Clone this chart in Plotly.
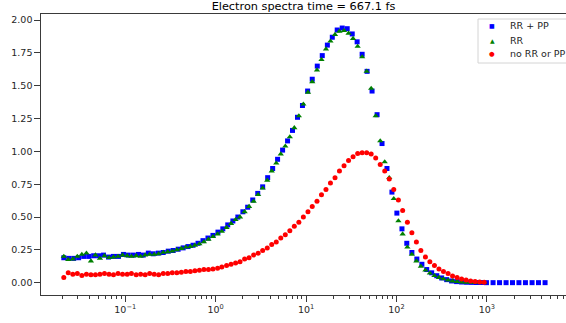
import plotly.graph_objects as go

# ---------------- data ----------------
x_rrpp = [0.0209, 0.0237, 0.0269, 0.0305, 0.0347, 0.0394, 0.0447, 0.0507, 0.0575, 0.0653,
          0.0741, 0.0841, 0.0955, 0.108, 0.123, 0.140, 0.158, 0.180, 0.204, 0.232,
          0.263, 0.299, 0.339, 0.385, 0.437, 0.495, 0.562, 0.638, 0.724, 0.822,
          0.933, 1.06, 1.20, 1.36, 1.55, 1.76, 2.00, 2.26, 2.57, 2.92,
          3.31, 3.76, 4.27, 4.84, 5.50, 6.24, 7.08, 8.04, 9.12, 10.4,
          11.7, 13.3, 15.1, 17.2, 19.5, 22.1, 25.1, 28.5, 32.4, 36.7,
          41.7, 47.3, 53.7, 61.0, 69.2, 78.5, 89.1, 101, 115, 130,
          148, 168, 191, 216, 245, 279, 316, 359, 407, 462,
          525, 596, 676, 767, 871, 989, 1170, 1380, 1630, 1920,
          2260, 2670, 3160, 3720, 4400]
y_rrpp = [0.190, 0.185, 0.185, 0.190, 0.200, 0.200, 0.205, 0.205, 0.210, 0.195,
          0.200, 0.200, 0.215, 0.210, 0.210, 0.215, 0.210, 0.225, 0.220, 0.225,
          0.230, 0.240, 0.245, 0.255, 0.265, 0.275, 0.285, 0.300, 0.320, 0.340,
          0.360, 0.385, 0.410, 0.440, 0.470, 0.500, 0.540, 0.575, 0.630, 0.680,
          0.730, 0.800, 0.870, 0.940, 1.010, 1.080, 1.160, 1.260, 1.350, 1.460,
          1.550, 1.650, 1.730, 1.810, 1.870, 1.925, 1.940, 1.935, 1.895, 1.835,
          1.740, 1.610, 1.460, 1.280, 1.060, 0.870, 0.690, 0.530, 0.410, 0.300,
          0.230, 0.180, 0.140, 0.100, 0.075, 0.053, 0.036, 0.023, 0.013, 0.008,
          0.005, 0.003, 0.002, 0.001, 0.001, 0.000, 0.000, 0.000, 0.000, 0.000,
          0.000, 0.000, 0.000, 0.000, 0.000]

x_rr = [0.0209, 0.0234, 0.0263, 0.0295, 0.0331, 0.0372, 0.0417, 0.0468, 0.0525, 0.0589,
        0.0661, 0.0741, 0.0832, 0.0933, 0.105, 0.117, 0.132, 0.148, 0.166, 0.186,
        0.209, 0.234, 0.263, 0.295, 0.331, 0.372, 0.417, 0.468, 0.525, 0.589,
        0.661, 0.741, 0.832, 0.933, 1.05, 1.17, 1.32, 1.48, 1.66, 1.86,
        2.09, 2.34, 2.63, 2.95, 3.31, 3.72, 4.17, 4.68, 5.25, 5.89,
        6.61, 7.41, 8.32, 9.33, 10.5, 11.7, 13.2, 14.8, 16.6, 18.6,
        20.9, 23.4, 26.3, 29.5, 33.1, 37.2, 41.7, 46.8, 52.5, 58.9,
        66.1, 74.1, 83.2, 93.3, 105, 117, 132, 148, 166, 186,
        209, 234, 263, 295, 331, 372, 417, 468, 525, 589,
        661, 741, 832, 933]
y_rr = [0.200, 0.175, 0.180, 0.200, 0.215, 0.225, 0.165, 0.210, 0.185, 0.205,
        0.190, 0.195, 0.200, 0.210, 0.205, 0.200, 0.205, 0.200, 0.210, 0.215,
        0.215, 0.220, 0.230, 0.235, 0.240, 0.250, 0.260, 0.270, 0.275, 0.285,
        0.295, 0.310, 0.330, 0.350, 0.370, 0.390, 0.420, 0.450, 0.480, 0.500,
        0.540, 0.580, 0.620, 0.670, 0.720, 0.780, 0.850, 0.910, 0.980, 1.040,
        1.110, 1.180, 1.270, 1.360, 1.450, 1.530, 1.620, 1.700, 1.780, 1.840,
        1.890, 1.915, 1.920, 1.900, 1.860, 1.800, 1.720, 1.610, 1.480, 1.270,
        1.080, 0.920, 0.800, 0.640, 0.470, 0.370, 0.270, 0.215, 0.165, 0.125,
        0.095, 0.072, 0.053, 0.039, 0.028, 0.019, 0.012, 0.008, 0.005, 0.003,
        0.002, 0.001, 0.001, 0.000]

x_none = x_rr
y_none = [0.040, 0.075, 0.065, 0.070, 0.055, 0.065, 0.060, 0.060, 0.065, 0.070,
          0.065, 0.060, 0.070, 0.065, 0.065, 0.070, 0.060, 0.065, 0.060, 0.070,
          0.065, 0.060, 0.070, 0.070, 0.075, 0.075, 0.080, 0.085, 0.085, 0.090,
          0.095, 0.100, 0.100, 0.105, 0.110, 0.120, 0.130, 0.140, 0.150, 0.160,
          0.180, 0.190, 0.210, 0.225, 0.245, 0.265, 0.290, 0.310, 0.340, 0.365,
          0.395, 0.430, 0.460, 0.500, 0.540, 0.580, 0.620, 0.670, 0.710, 0.760,
          0.800, 0.850, 0.890, 0.930, 0.960, 0.985, 0.990, 0.990, 0.980, 0.950,
          0.900, 0.850, 0.790, 0.710, 0.630, 0.550, 0.460, 0.380, 0.310, 0.245,
          0.195, 0.160, 0.130, 0.105, 0.085, 0.070, 0.050, 0.040, 0.028, 0.020,
          0.013, 0.008, 0.005, 0.003]

series_names = ["RR + PP", "RR", "no RR or PP"]
series_colors = ["#0000ff", "#008000", "#ff0000"]
legend_glyphs = ["\u25A0", "\u25B2", "\u25CF"]
title_text = "Electron spectra time = 667.1 fs"
y_ticks = [0.0, 0.25, 0.5, 0.75, 1.0, 1.25, 1.5, 1.75, 2.0]
x_tick_vals = [0.1, 1, 10, 100, 1000]
x_tick_text = ["10<sup>\u22121</sup>", "10<sup>0</sup>", "10<sup>1</sup>",
               "10<sup>2</sup>", "10<sup>3</sup>"]

# ---------------- layout geometry (pixels) ----------------
W, H = 566, 323
L, R, T, B = 41, 0, 14, 28
PW, PH = W - L - R, H - T - B


def px_x(p):
    return (p - L) / PW


def px_y(p):
    return (H - B - p) / PH


TXT = "#262626"
AX = "#3a3a3a"

fig = go.Figure()
symbols = ["square", "triangle-up", "circle"]
sizes = [5, 5.5, 5]
for xs, ys, nm, col, sym, sz in zip([x_rrpp, x_rr, x_none], [y_rrpp, y_rr, y_none],
                                    series_names, series_colors, symbols, sizes):
    fig.add_trace(go.Scatter(x=xs, y=ys, mode="markers", name=nm, showlegend=False,
                             marker=dict(symbol=sym, size=sz, color=col,
                                         line=dict(width=0))))

# legend box (drawn like matplotlib's legend frame)
fig.add_shape(type="rect", xref="paper", yref="paper",
              x0=px_x(478), x1=px_x(575), y0=px_y(63), y1=px_y(19),
              line=dict(color="#d4d4d4", width=1), fillcolor="rgba(255,255,255,0.85)",
              layer="above")
row_y = [26, 40.5, 54]
glyph_sizes = [6, 6, 6.5]
for nm, col, gl, gs, ry in zip(series_names, series_colors, legend_glyphs, glyph_sizes, row_y):
    fig.add_annotation(x=px_x(492), y=px_y(ry), xref="paper", yref="paper",
                       text=gl, showarrow=False, xanchor="center", yanchor="middle",
                       font=dict(family="DejaVu Sans", size=gs, color=col))
    fig.add_annotation(x=px_x(508), y=px_y(ry), xref="paper", yref="paper",
                       text=nm, showarrow=False, xanchor="left", yanchor="middle",
                       font=dict(family="DejaVu Sans", size=9.5, color=TXT))

fig.update_layout(
    width=W, height=H,
    margin=dict(l=L, r=R, t=T, b=B, pad=0),
    paper_bgcolor="white", plot_bgcolor="white",
    font=dict(family="DejaVu Sans", size=9.5, color=TXT),
    title=dict(text=title_text, x=0.5, xref="paper", xanchor="center",
               y=0.981, yref="container", yanchor="middle",
               font=dict(family="DejaVu Sans", size=11.3, color="#000000")),
    showlegend=False,
    xaxis=dict(type="log", range=[-1.932, 3.875],
               tickmode="array", tickvals=x_tick_vals, ticktext=x_tick_text,
               showgrid=False, zeroline=False,
               showline=True, linecolor=AX, linewidth=1.3, mirror=True,
               ticks="outside", ticklen=5.5, tickwidth=1.3, tickcolor=AX,
               tickfont=dict(family="DejaVu Sans", size=9.5, color=TXT),
               minor=dict(ticks="outside", ticklen=3.2, tickwidth=1, tickcolor=AX,
                          dtick="D1", showgrid=False)),
    yaxis=dict(range=[-0.094, 2.047], tickvals=y_ticks, tickformat=".2f",
               showgrid=False, zeroline=False,
               showline=True, linecolor=AX, linewidth=1.3, mirror=False,
               ticks="outside", ticklen=5.5, tickwidth=1.3, tickcolor=AX,
               tickfont=dict(family="DejaVu Sans", size=9.5, color=TXT)),
)

fig.write_html("out.html")
